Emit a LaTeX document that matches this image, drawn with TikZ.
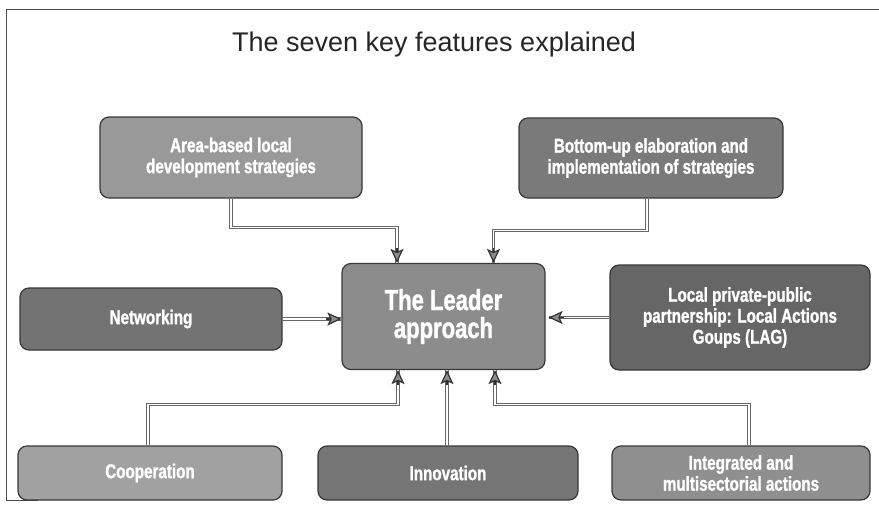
\documentclass[tikz,border=0pt]{standalone}
\usepackage{fontspec}
\setmainfont{Liberation Sans}
\newfontfamily\boxfont{Liberation Sans Bold}[FakeStretch=0.76,FakeBold=1.2]
\newfontfamily\leadfont{Liberation Sans Bold}[FakeStretch=0.76,FakeBold=1.3]
\usetikzlibrary{arrows.meta,calc}
\definecolor{cA}{gray}{0.60}
\definecolor{cB}{gray}{0.48}
\definecolor{cL}{gray}{0.55}
\definecolor{cN}{gray}{0.45}
\definecolor{cG}{gray}{0.40}
\definecolor{cC}{gray}{0.63}
\definecolor{cI}{gray}{0.46}
\definecolor{cM}{gray}{0.56}
\definecolor{edge}{gray}{0.22}
\definecolor{conn}{gray}{0.40}
\definecolor{tipfill}{gray}{0.55}
\tikzset{
  feat/.style={draw=edge, line width=1.2pt, rounded corners=9pt, align=center,
    text=white, font=\boxfont\fontsize{20}{21}\selectfont, inner sep=0pt},
  link/.style={draw=conn, line width=0.9pt, double=white, double distance=1.3pt},
  tipst/.style={draw=black!80, line width=1.2pt, -{Stealth[length=14pt,width=13pt,inset=3pt,fill=tipfill]}},
}
\begin{document}
\begin{tikzpicture}[x=1pt,y=-1pt]
\useasboundingbox (0,0) rectangle (879,520);
% frame
\draw[gray!60!black, line width=0.8pt] (879,9) -- (6,9) -- (6,500) -- (38,500);
% title
\node[font=\fontsize{27}{30}\selectfont, text=black!85] (title) at (434,45) {The seven key features explained};
% boxes
\node[feat, fill=cA, minimum width=262pt, minimum height=81pt] (A) at (231,157.5) {Area-based local\\development strategies};
\node[feat, fill=cB, minimum width=264pt, minimum height=80pt] (B) at (651,158) {Bottom-up elaboration and\\implementation of strategies};
\node[feat, fill=cL, minimum width=203pt, minimum height=106pt, font=\leadfont\fontsize{29}{28}\selectfont] (L) at (443.5,316.5) {The Leader\\approach};
\node[feat, fill=cN, minimum width=262pt, minimum height=62pt] (N) at (151,319) {Networking};
\node[feat, fill=cG, minimum width=260pt, minimum height=105pt] (G) at (740,317.5) {Local private-public\\partnership: Local Actions\\Goups (LAG)};
\node[feat, fill=cC, minimum width=264pt, minimum height=54pt] (C) at (150,473) {Cooperation};
\node[feat, fill=cI, minimum width=260pt, minimum height=54pt] (I) at (448,473) {Innovation};
\node[feat, fill=cM, minimum width=258pt, minimum height=54pt] (M) at (741,473) {Integrated and\\multisectorial actions};
% arrow end points on the Leader box
\coordinate (tA) at ([xshift=-46.5pt]L.north);
\coordinate (tB) at ([xshift=50pt]L.north);
\coordinate (tN) at (N.east -| L.west);
\coordinate (tG) at ([xshift=3pt]G.west -| L.east);
\coordinate (tC) at ([xshift=-45.5pt]L.south);
\coordinate (tI) at ([xshift=-1pt]I.north |- L.south);
\coordinate (tM) at ([xshift=51.5pt]L.south);
% connectors
\draw[link] (A.south) -- ++(0,29) -| (tA);
\draw[link] ([xshift=-4pt]B.south) -- ++(0,32) -| (tB);
\draw[link] (N.east) -- (tN);
\draw[link] (G.west) -- (tG);
\draw[link] ([xshift=-2pt]C.north) -- ++(0,-41) -| (tC);
\draw[link] ([xshift=-1pt]I.north) -- (tI);
\draw[link] ([xshift=8pt]M.north) -- ++(0,-41) -| (tM);
% arrow heads
\draw[tipst] ([yshift=15pt]tA) -- (tA);
\draw[tipst] ([yshift=15pt]tB) -- (tB);
\draw[tipst] ([xshift=-15pt]tN) -- (tN);
\draw[tipst] ([xshift=15pt]tG) -- (tG);
\draw[tipst] ([yshift=-15pt]tC) -- (tC);
\draw[tipst] ([yshift=-15pt]tI) -- (tI);
\draw[tipst] ([yshift=-15pt]tM) -- (tM);
\end{tikzpicture}
\end{document}
